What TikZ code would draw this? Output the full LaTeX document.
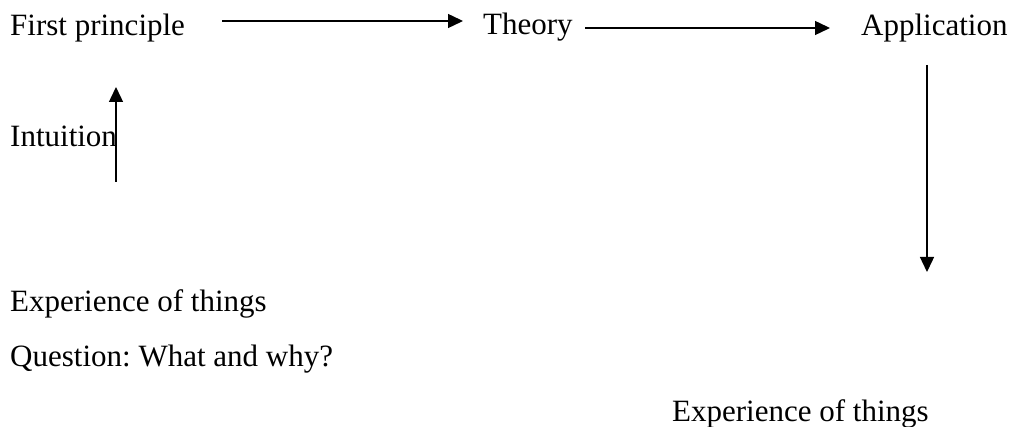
\documentclass[tikz,border=0pt]{standalone}
\usepackage{fontspec}
\setmainfont{Liberation Serif}
\usetikzlibrary{arrows.meta}
\frenchspacing
\begin{document}
\begin{tikzpicture}[x=1pt,y=-1pt,
  lbl/.style={anchor=base west,inner sep=0pt,font=\fontsize{31}{37}\selectfont},
  conn/.style={line width=1.4pt,-{Triangle[length=15pt,width=14pt]}}]
\useasboundingbox (0,0) rectangle (1015,427);
\node[lbl] (fp) at (10,36) {First principle};
\node[lbl] (th) at (483,35) {Theory};
\node[lbl] (ap) at (861,36) {Application};
\node[lbl] (in) at (10,147) {Intuition};
\node[lbl] (ex1) at (10,312) {Experience of things};
\node[lbl] (qu) at (10,367) {Question: What and why?};
\node[lbl] (ex2) at (672,421) {Experience of things};
\coordinate (a1s) at (222,21);
\coordinate (a1e) at (463,21);
\coordinate (a2s) at (585,28);
\coordinate (a2e) at (830,28);
\coordinate (a3s) at (116,182);
\coordinate (a3e) at (116,87);
\coordinate (a4s) at (927,65);
\coordinate (a4e) at (927,272);
\draw[conn] (a1s) -- (a1e);
\draw[conn] (a2s) -- (a2e);
\draw[conn] (a3s) -- (a3e);
\draw[conn] (a4s) -- (a4e);
\end{tikzpicture}
\end{document}
